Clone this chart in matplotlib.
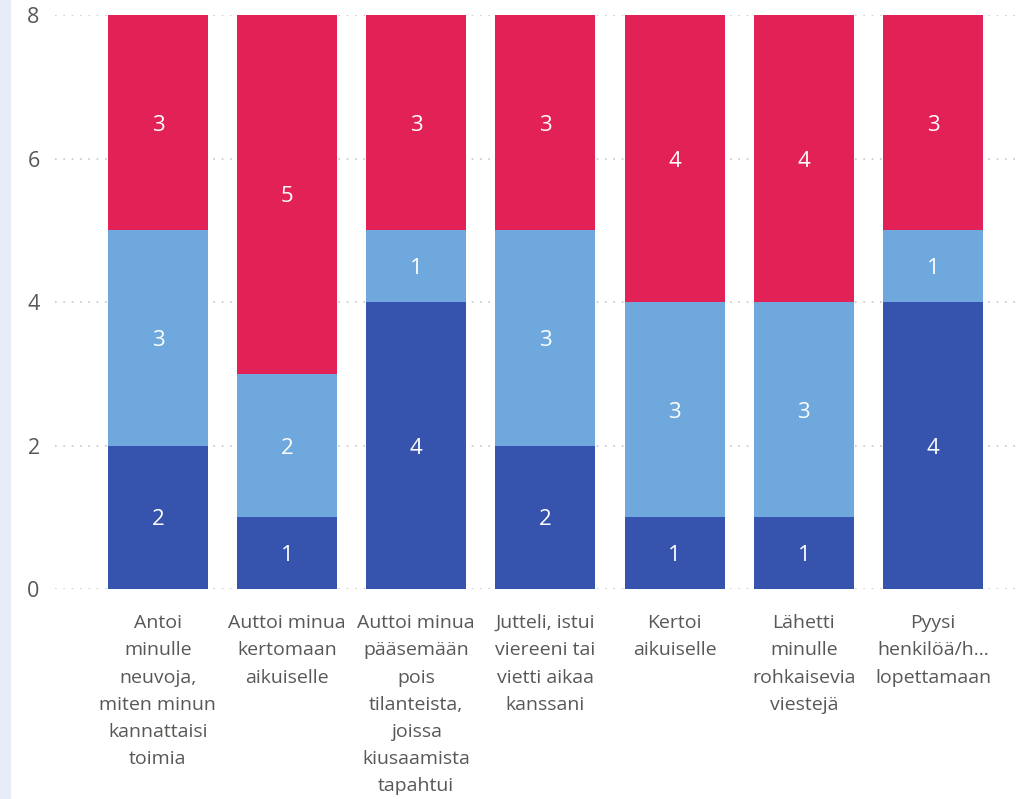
import matplotlib.pyplot as plt
import numpy as np

# 데이터
labels = ["Antoi\nminulle\nneuvoja,\nmiten minun\nkannattaisi\ntoimia",
          "Auttoi minua\nkertomaan\naikuiselle",
          "Auttoi minua\npääsemään\npois\ntilanteista,\njoissa\nkiusaamista\ntapahtui",
          "Jutteli, istui\nviereeni tai\nvietti aikaa\nkanssani",
          "Kertoi\naikuiselle",
          "Lähetti\nminulle\nrohkaisevia\nviestejä",
          "Pyysi\nhenkilöä/h…\nlopettamaan"]
dark = [2, 1, 4, 2, 1, 1, 4]
light = [3, 2, 1, 3, 3, 3, 1]
red = [3, 5, 3, 3, 4, 4, 3]
yticks = [0, 2, 4, 6, 8]

plt.rcParams['font.family'] = ['Open Sans', 'DejaVu Sans']
txt_color = '#5A5856'

fig = plt.figure(figsize=(10.18, 7.99), dpi=100)
ax = fig.add_axes([0.054, 0.2628, 0.946, 0.7184])

# 왼쪽 옅은 파란 띠
fig.patches.append(plt.Rectangle((0, 0), 10 / 1018, 1, transform=fig.transFigure,
                                 color='#E6EDF8', zorder=0))

x = np.arange(len(labels))
w = 0.774
bottom = np.zeros(len(labels))
for vals, col in [(dark, '#3653AE'), (light, '#6FA8DC'), (red, '#E22157')]:
    bars = ax.bar(x, vals, w, bottom=bottom, color=col, zorder=2)
    for b, v in zip(bars, vals):
        ax.text(b.get_x() + b.get_width() / 2, b.get_y() + v / 2, str(v),
                ha='center', va='center_baseline', color='white', fontsize=16, zorder=3)
    bottom += np.array(vals)

ax.set_xlim(-0.797, 6.658)
ax.set_ylim(0, 8)
ax.set_yticks(yticks)
ax.set_yticklabels([str(t) for t in yticks], color=txt_color, fontsize=15.5)
ax.set_xticks(x)
ax.set_xticklabels(labels, color=txt_color, fontsize=14, linespacing=1.66, va='top')
ax.tick_params(axis='both', length=0)
ax.tick_params(axis='y', pad=11)
ax.tick_params(axis='x', pad=18)

ax.grid(axis='y', color='#C8C8C8', linestyle=(0, (1, 4)), linewidth=1.2, zorder=1)
ax.set_axisbelow(True)
for s in ax.spines.values():
    s.set_visible(False)

plt.savefig('out.png', dpi=100)
